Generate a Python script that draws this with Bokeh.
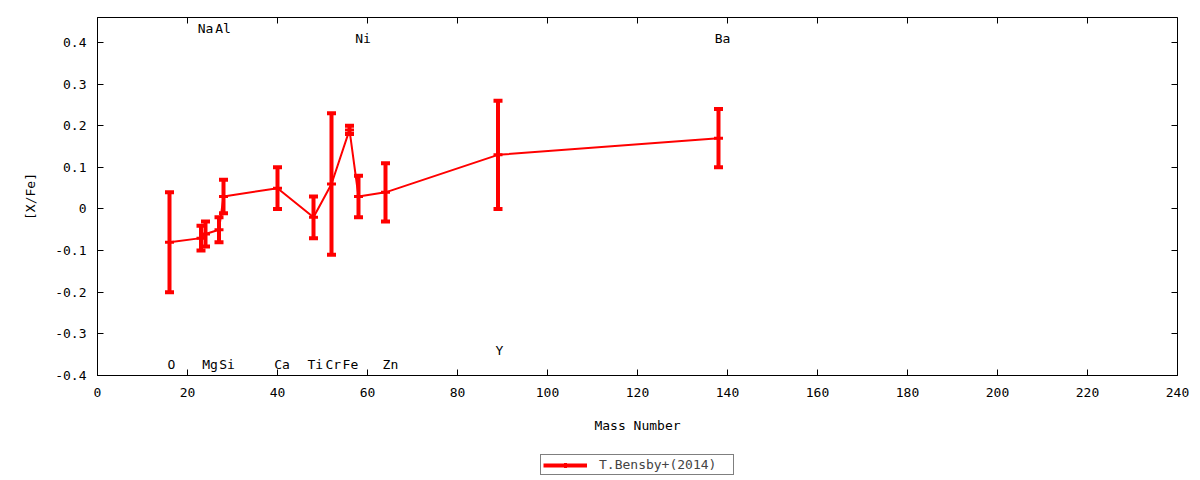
import numpy as np
from bokeh.plotting import figure
from bokeh.layouts import column
from bokeh.models import (ColumnDataSource, Range1d, LinearAxis, FixedTicker,
                          Legend, LegendItem, CustomJSTickFormatter)
from bokeh.core.properties import value
from bokeh.embed import file_html
from bokeh.resources import INLINE

# ---- data ----
elements = ["O", "Na", "Mg", "Al", "Si", "Ca", "Ti", "Cr", "Fe", "Ni", "Zn", "Y", "Ba"]
mass = [16, 23, 24, 27, 28, 40, 48, 52, 56, 58, 64, 89, 138]
x_fe = [-0.08, -0.07, -0.06, -0.05, 0.03, 0.05, -0.02, 0.06, 0.19, 0.03, 0.04, 0.13, 0.17]
err = [0.12, 0.03, 0.03, 0.03, 0.04, 0.05, 0.05, 0.17, 0.01, 0.05, 0.07, 0.13, 0.07]

# element name labels (as drawn in the reference)
label_text = ["Na", "Al", "Ni", "Ba", "O", "Mg", "Si", "Ca", "Ti", "Cr", "Fe", "Zn", "Y"]
label_x = [24.0, 27.9, 59.0, 138.9, 16.4, 25.0, 28.8, 41.0, 48.4, 52.4, 56.2, 65.1, 89.3]
label_y = [0.434, 0.434, 0.41, 0.41, -0.373, -0.373, -0.373, -0.373, -0.373, -0.373, -0.373, -0.373, -0.34]

x_ticks = [0, 20, 40, 60, 80, 100, 120, 140, 160, 180, 200, 220, 240]
y_ticks = [-0.4, -0.3, -0.2, -0.1, 0.0, 0.1, 0.2, 0.3, 0.4]
y_tick_labels = ["-0.4", "-0.3", "-0.2", "-0.1", "0", "0.1", "0.2", "0.3", "0.4"]

series_name = "T.Bensby+(2014)"

FONT = "DejaVu Sans Mono"
RED = "#ff0000"

m = np.array(mass, dtype=float)
v = np.array(x_fe)
e = np.array(err)
src = ColumnDataSource(dict(x=m, y=v, lo=v - e, hi=v + e))
lab = ColumnDataSource(dict(x=label_x, y=label_y, t=label_text))

p = figure(width=1200, height=438,
           x_range=Range1d(0, 240), y_range=Range1d(-0.4, 0.46),
           output_backend="svg", toolbar_location=None,
           min_border_left=97, min_border_right=23,
           min_border_top=17, min_border_bottom=63,
           x_axis_label="Mass Number", y_axis_label="[X/Fe]")
p.grid.visible = False
p.outline_line_color = "black"
p.outline_line_width = 1
p.background_fill_color = "white"
p.border_fill_color = "white"

def style_axis(ax, ticks, show_labels=True):
    ax.ticker = FixedTicker(ticks=ticks)
    ax.major_tick_in = 6
    ax.major_tick_out = 0
    ax.minor_tick_line_color = None
    ax.major_tick_line_color = "black"
    ax.axis_line_color = "black"
    ax.major_label_text_font = FONT
    ax.major_label_text_font_size = "13px"
    ax.major_label_text_color = "black"
    ax.axis_label_text_font = FONT
    ax.axis_label_text_font_size = "13px"
    ax.axis_label_text_font_style = "normal"
    ax.axis_label_text_color = "black"
    if not show_labels:
        ax.formatter = CustomJSTickFormatter(code="return '';")
        ax.major_label_standoff = 0
        ax.axis_line_color = None

xa = p.xaxis[0]
style_axis(xa, x_ticks)
xa.major_label_standoff = 12
xa.axis_label_standoff = 18

ya = p.yaxis[0]
style_axis(ya, y_ticks)
ya.major_label_overrides = {t: s for t, s in zip(y_ticks, y_tick_labels)}
ya.major_label_standoff = 11
ya.axis_label_standoff = 14

top_ax = LinearAxis()
style_axis(top_ax, x_ticks, show_labels=False)
p.add_layout(top_ax, "above")
right_ax = LinearAxis()
style_axis(right_ax, y_ticks, show_labels=False)
p.add_layout(right_ax, "right")

# connecting line
ln = p.line("x", "y", source=src, line_color=RED, line_width=2)
# error bars
bars = p.segment(x0="x", y0="lo", x1="x", y1="hi", source=src, line_color=RED, line_width=4)
p.scatter("x", "lo", source=src, marker="dash", size=9, line_color=RED, line_width=4)
p.scatter("x", "hi", source=src, marker="dash", size=9, line_color=RED, line_width=4)
ctr = p.scatter("x", "y", source=src, marker="cross", size=9, line_color=RED, line_width=3)

# element labels
p.text("x", "y", text="t", source=lab, text_align="center", text_baseline="middle",
       text_font=value(FONT), text_font_size="13px", text_color="black")

# ---- legend strip below the plot (its key renderers fall outside its empty range) ----
lg = figure(width=1200, height=42, x_range=Range1d(-2, -1), y_range=Range1d(-2, -1),
            output_backend="svg", toolbar_location=None,
            x_axis_location=None, y_axis_location=None,
            min_border=0, min_border_left=0, min_border_right=0,
            min_border_top=0, min_border_bottom=0)
lg.grid.visible = False
lg.outline_line_color = None
lg.background_fill_color = "white"
lg.border_fill_color = "white"
key_bar = lg.segment(x0="x", y0="lo", x1="x", y1="hi", source=src, line_color=RED, line_width=4)
key_ctr = lg.scatter("x", "y", source=src, marker="cross", size=9, line_color=RED, line_width=3)

legend = Legend(items=[LegendItem(label=series_name, renderers=[key_bar, key_ctr])],
                orientation="horizontal", location=(443, 5),
                border_line_color="black", border_line_width=1,
                background_fill_color="white", background_fill_alpha=1,
                label_text_font=FONT, label_text_font_size="13px",
                glyph_width=44, glyph_height=12, padding=2, margin=0,
                label_standoff=12, label_width=132, label_height=13, spacing=0)
lg.add_layout(legend, "center")

layout = column(p, lg, spacing=0)
open("out.html", "w").write(file_html(layout, INLINE))
